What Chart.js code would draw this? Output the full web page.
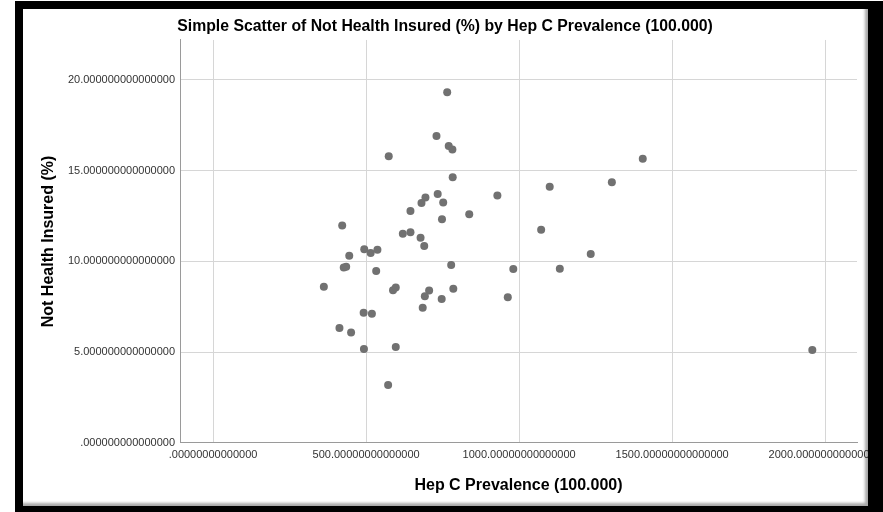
<!DOCTYPE html>
<html>
<head>
<meta charset="utf-8">
<script src="https://cdn.jsdelivr.net/npm/chart.js@4"></script>
<style>
  html, body { margin: 0; padding: 0; background: #fff; overflow: hidden; }
  #wrap { position: absolute; left: 0; top: 0; width: 883px; height: 512px; }
  #frame {
    position: absolute; left: 15px; top: 1px; right: 0; bottom: 0;
    border-style: solid; border-color: #000;
    border-width: 8px 15px 6px 8px;
    box-shadow: inset -3px -3px 3px rgba(0,0,0,0.35);
    pointer-events: none;
  }
</style>
</head>
<body>
<div id="wrap">
  <canvas id="scatterChart" width="883" height="512"></canvas>
  <div id="frame"></div>
</div>
<script>
// Hep C prevalence (x) vs not health insured % (y)
const hepC = [765, 730, 770, 782, 574, 783, 1100, 734, 929, 694,
  681, 752, 645, 837, 748, 422, 1072, 620, 645, 678,
  690, 494, 515, 537, 445, 1234, 427, 435, 778, 981,
  1133, 533, 362, 588, 597, 706, 692, 785, 747, 963,
  685, 492, 519, 413, 451, 493, 597, 572, 1404, 1303, 1958];
const notInsured = [19.32, 16.91, 16.36, 16.16, 15.80, 14.64, 14.12, 13.72, 13.63, 13.52,
  13.22, 13.25, 12.78, 12.60, 12.33, 11.98, 11.75, 11.52, 11.61, 11.31,
  10.85, 10.67, 10.46, 10.65, 10.32, 10.41, 9.67, 9.71, 9.81, 9.59,
  9.60, 9.47, 8.61, 8.42, 8.56, 8.40, 8.09, 8.50, 7.93, 8.03,
  7.45, 7.18, 7.12, 6.34, 6.08, 5.18, 5.29, 3.20, 15.65, 14.36, 5.12];

const xTicks = [0, 500, 1000, 1500, 2000];
const xTickLabels = ['.00000000000000', '500.00000000000000', '1000.00000000000000',
  '1500.00000000000000', '2000.00000000000000'];
const yTicks = [0, 5, 10, 15, 20];
const yTickLabels = ['.000000000000000', '5.000000000000000', '10.000000000000000',
  '15.000000000000000', '20.000000000000000'];

const points = hepC.map((x, i) => ({ x: x, y: notInsured[i] }));

const fontFamily = '"Liberation Sans", Arial, sans-serif';
const tickFont = { family: fontFamily, size: 11 };
const axisTitleFont = { family: fontFamily, size: 16, weight: 'bold' };

const ctx = document.getElementById('scatterChart').getContext('2d');
new Chart(ctx, {
  type: 'scatter',
  data: {
    datasets: [{
      label: 'Not Health Insured (%)',
      data: points,
      backgroundColor: '#717171',
      borderColor: '#717171',
      borderWidth: 0,
      pointRadius: 4,
      pointHoverRadius: 4
    }]
  },
  options: {
    responsive: false,
    animation: false,
    layout: { padding: { left: 33, right: 26, top: 0, bottom: 0 } },
    plugins: {
      legend: { display: false },
      tooltip: { enabled: false },
      title: {
        display: true,
        text: 'Simple Scatter of Not Health Insured (%) by Hep C Prevalence (100.000)',
        color: '#000',
        font: { family: fontFamily, size: 15.8, weight: 'bold' },
        padding: { top: 17.5, bottom: 3.5 }
      }
    },
    scales: {
      x: {
        type: 'linear',
        min: -108,
        max: 2104,
        afterBuildTicks: function(scale) {
          scale.ticks = xTicks.map(v => ({ value: v }));
        },
        afterFit: function(scale) {
          scale.height = 69;
          scale.paddingLeft = 0;
          scale.paddingRight = 0;
        },
        ticks: {
          autoSkip: false,
          maxRotation: 0,
          padding: 5,
          color: '#333',
          font: tickFont,
          callback: function(value) {
            const i = xTicks.indexOf(value);
            return i >= 0 ? xTickLabels[i] : '';
          }
        },
        grid: { color: '#d6d6d6', drawTicks: false },
        border: { color: '#9a9a9a', width: 1 },
        title: {
          display: true,
          text: 'Hep C Prevalence (100.000)',
          color: '#000',
          font: axisTitleFont,
          padding: { top: 0, bottom: 16.9 }
        }
      },
      y: {
        type: 'linear',
        min: 0,
        max: 22.2,
        afterBuildTicks: function(scale) {
          scale.ticks = yTicks.map(v => ({ value: v }));
        },
        afterFit: function(scale) {
          scale.width = 147;
          scale.paddingTop = 0;
          scale.paddingBottom = 0;
        },
        ticks: {
          autoSkip: false,
          padding: 5,
          color: '#333',
          font: tickFont,
          callback: function(value) {
            const i = yTicks.indexOf(value);
            return i >= 0 ? yTickLabels[i] : '';
          }
        },
        grid: { color: '#d6d6d6', drawTicks: false },
        border: { color: '#9a9a9a', width: 1 },
        title: {
          display: true,
          text: 'Not Health Insured (%)',
          color: '#000',
          font: axisTitleFont,
          padding: { top: 5.9, bottom: 0 }
        }
      }
    }
  }
});
</script>
</body>
</html>
